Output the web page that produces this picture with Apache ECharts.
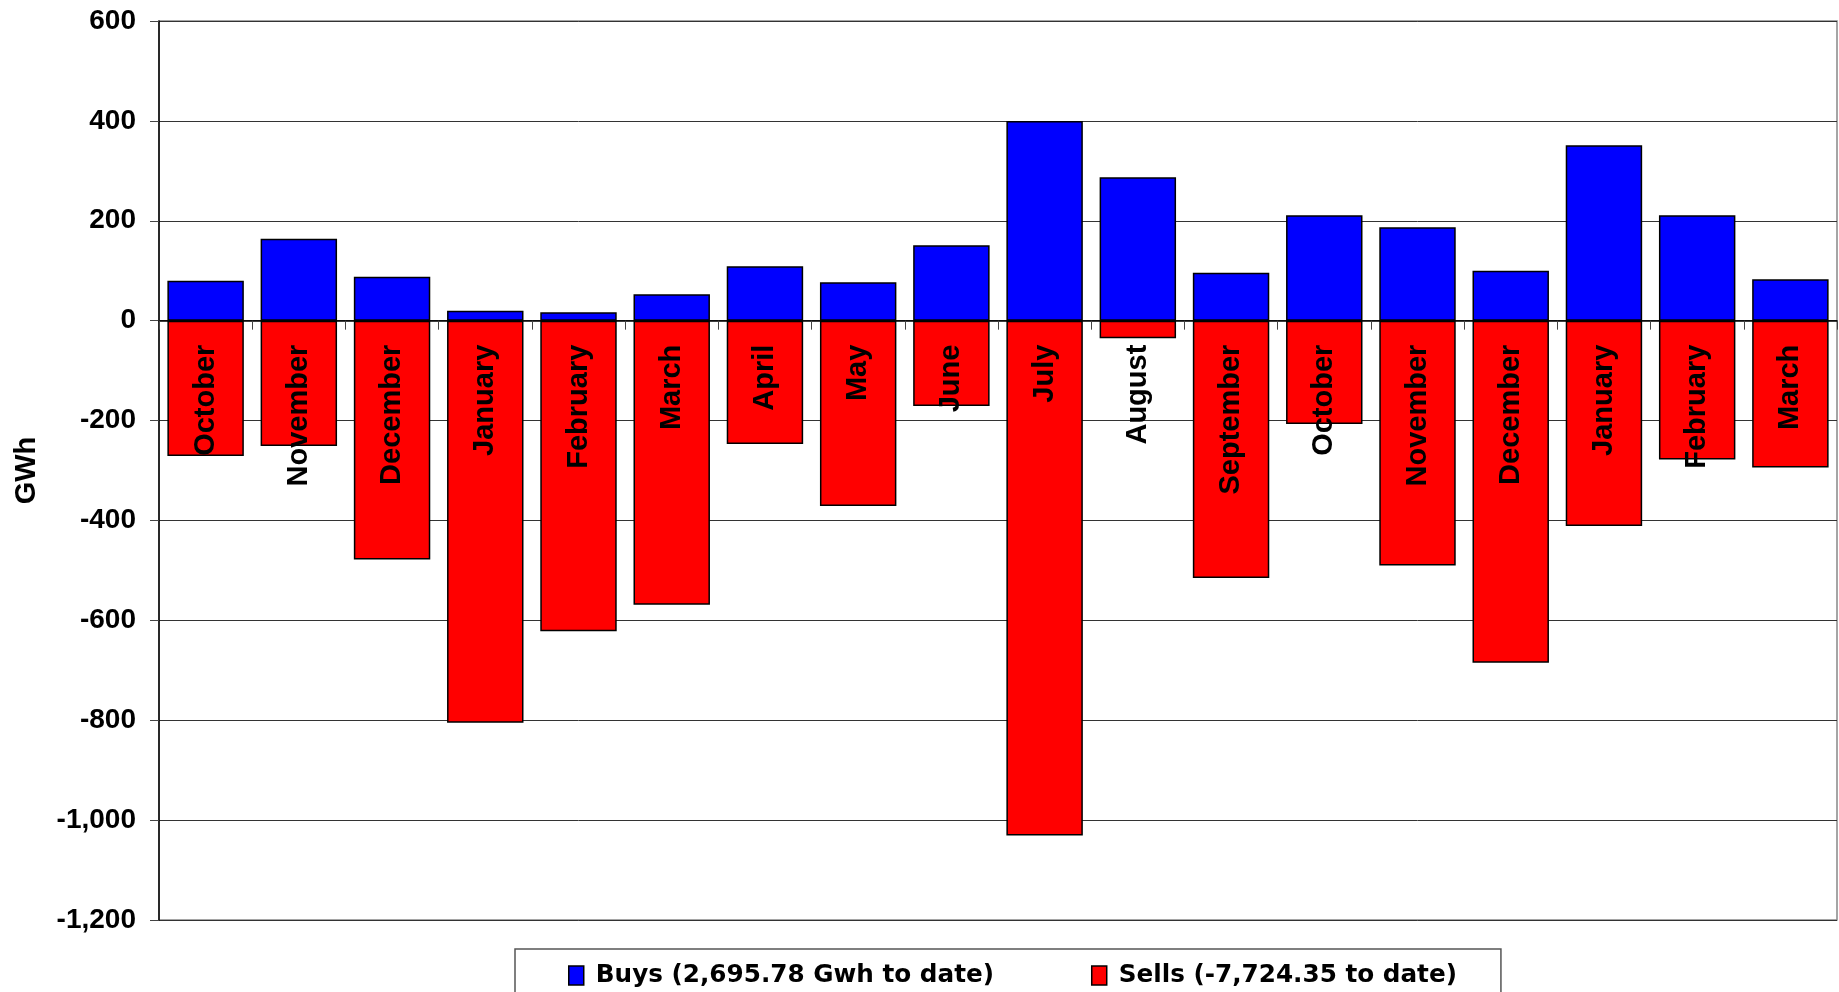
<!DOCTYPE html>
<html>
<head>
<meta charset="utf-8">
<script src="https://cdn.jsdelivr.net/npm/echarts@6/dist/echarts.min.js"></script>
<style>
html,body{margin:0;padding:0;background:#fff;}
#chart{width:1839px;height:992px;}
</style>
</head>
<body>
<div id="chart"></div>
<script>
const categories = ['October','November','December','January','February','March','April','May','June','July','August','September','October','November','December','January','February','March'];
const buys = [80, 164, 88, 20, 17, 53, 109, 77, 151, 400, 287, 96, 211, 187, 100, 351, 211, 83];
const sells = [-271, -251, -478, -805, -622, -569, -247, -371, -171, -1031, -35, -515, -207, -490, -685, -411, -278, -294];
const yTicks = {min: -1200, max: 600, interval: 200};
const buysName = 'Buys (2,695.78 Gwh to date)';
const sellsName = 'Sells (-7,724.35 to date)';
const yName = 'GWh';

const chart = echarts.init(document.getElementById('chart'), null, {renderer: 'canvas'});
const font = "'Liberation Sans', Arial, Helvetica, sans-serif";
const gridTop = 21, gridBottom = 72;
chart.setOption({
  animation: false,
  backgroundColor: '#fff',
  grid: {left: 159, right: 2, top: gridTop, bottom: gridBottom, show: true, borderColor: '#888', borderWidth: 1.5,
         containLabel: false, outerBoundsMode: 'none'},
  legend: {
    left: 515, top: 949,
    padding: [14, 44, 40, 53],
    itemGap: 97,
    itemWidth: 15, itemHeight: 19,
    borderColor: '#555', borderWidth: 1.5,
    icon: 'rect',
    itemStyle: {borderColor: '#000', borderWidth: 1.5},
    textStyle: {fontFamily: 'DejaVu Sans', fontWeight: 'bold', fontSize: 24.7, color: '#000', padding: [0, 0, 0, 7]},
    data: [buysName, sellsName]
  },
  xAxis: {
    type: 'category',
    data: categories,
    z: 10,
    offset: 0,
    axisLine: {onZero: false, lineStyle: {color: '#000', width: 1.5}},
    axisTick: {show: true, length: 9, inside: false, lineStyle: {color: '#444', width: 1}},
    axisLabel: {rotate: 90, margin: 24, interval: 0, fontFamily: font, fontWeight: 'bold', fontSize: 29, color: '#000'}
  },
  yAxis: {
    type: 'value',
    min: yTicks.min, max: yTicks.max, interval: yTicks.interval,
    name: yName,
    nameLocation: 'middle',
    nameRotate: 90,
    nameGap: 118,
    nameTextStyle: {fontFamily: font, fontWeight: 'bold', fontSize: 29, color: '#000'},
    axisLine: {show: true, lineStyle: {color: '#000', width: 1.5}},
    axisTick: {show: true, length: 9, lineStyle: {color: '#444'}},
    axisLabel: {margin: 23, fontFamily: font, fontWeight: 'bold', fontSize: 28, color: '#000',
      formatter: v => v.toLocaleString('en-US')},
    splitLine: {show: true, lineStyle: {color: '#333', width: 1}}
  },
  series: [
    {name: buysName, type: 'bar', data: buys, barGap: '-100%', barCategoryGap: '18%',
     itemStyle: {color: '#0000FF', borderColor: '#000', borderWidth: 1.5}},
    {name: sellsName, type: 'bar', data: sells, barGap: '-100%', barCategoryGap: '18%',
     itemStyle: {color: '#FF0000', borderColor: '#000', borderWidth: 1.5}}
  ]
});
// move the category axis (line, ticks, labels) up to the zero value of the y axis
const zeroY = chart.convertToPixel({yAxisIndex: 0}, 0);
const bottomY = 992 - gridBottom;
chart.setOption({xAxis: {offset: -(bottomY - zeroY)}});
</script>
</body>
</html>
